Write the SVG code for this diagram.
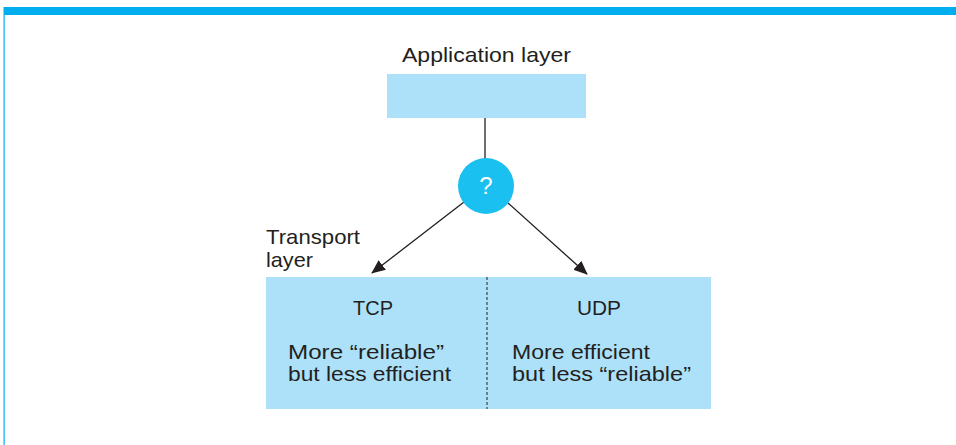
<svg xmlns="http://www.w3.org/2000/svg" width="956" height="445" viewBox="0 0 956 445">
<defs>
<style>
.t{font-family:"Liberation Sans",Arial,sans-serif;font-size:21px;fill:#231f20}
.box{fill:#ade1f9}
.ln{stroke:#231f20;stroke-width:1.3;fill:none}
</style>
<marker id="ah" markerWidth="14" markerHeight="12" refX="13" refY="6" orient="auto" markerUnits="userSpaceOnUse" viewBox="0 0 14 12">
<path d="M0,0 L14,6 L0,12 z" fill="#231f20"/>
</marker>
</defs>
<rect x="0" y="0" width="956" height="445" fill="#ffffff"/>
<rect x="4" y="7" width="952" height="8" fill="#00aeef"/>
<rect x="3.5" y="7" width="1.2" height="438" fill="#00aeef"/>
<g id="app">
<text class="t" x="402" y="62" textLength="169" lengthAdjust="spacingAndGlyphs">Application layer</text>
<rect class="box" x="387" y="74" width="199" height="44"/>
</g>
<g id="connectors">
<line class="ln" x1="485" y1="118" x2="485" y2="160"/>
<line class="ln" x1="464" y1="202" x2="372" y2="273" marker-end="url(#ah)"/>
<line class="ln" x1="508" y1="203" x2="587" y2="274" marker-end="url(#ah)"/>
</g>
<g id="choice">
<circle cx="486" cy="186" r="28" fill="#19c0f0"/>
<text x="486" y="194" text-anchor="middle" style="font-family:'Liberation Sans',Arial,sans-serif;font-size:24px;fill:#ffffff">?</text>
</g>
<g id="transport">
<text class="t" x="266" y="244" textLength="94" lengthAdjust="spacingAndGlyphs">Transport</text>
<text class="t" x="266" y="267" textLength="47" lengthAdjust="spacingAndGlyphs">layer</text>
<rect class="box" x="266" y="277" width="445" height="132"/>
<line x1="487" y1="277" x2="487" y2="409" stroke="#231f20" stroke-width="1" stroke-dasharray="3,2"/>
</g>
<g id="tcp">
<text class="t" x="353" y="315" textLength="40" lengthAdjust="spacingAndGlyphs">TCP</text>
<text class="t" x="288" y="359" textLength="156" lengthAdjust="spacingAndGlyphs">More “reliable”</text>
<text class="t" x="288" y="381" textLength="163" lengthAdjust="spacingAndGlyphs">but less efficient</text>
</g>
<g id="udp">
<text class="t" x="577" y="315" textLength="44" lengthAdjust="spacingAndGlyphs">UDP</text>
<text class="t" x="512" y="359" textLength="138" lengthAdjust="spacingAndGlyphs">More efficient</text>
<text class="t" x="512" y="381" textLength="179" lengthAdjust="spacingAndGlyphs">but less “reliable”</text>
</g>
</svg>
